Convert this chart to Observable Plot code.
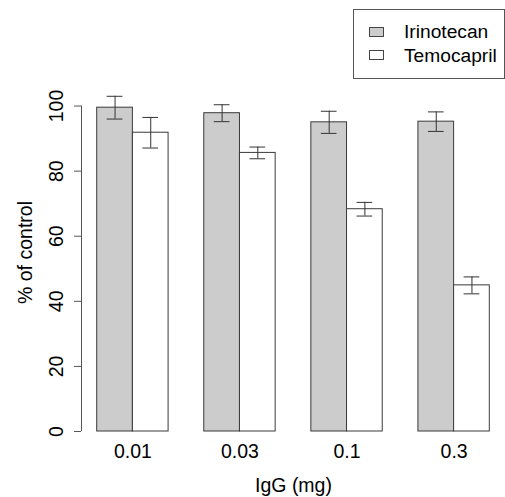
<!DOCTYPE html>
<html>
<head>
<meta charset="utf-8">
<script src="https://cdn.jsdelivr.net/npm/d3@7"></script>
<script src="https://cdn.jsdelivr.net/npm/@observablehq/plot@0.6"></script>
<style>
  body { margin: 0; background: #fff; }
  #wrap { position: relative; width: 505px; height: 497px; font-family: "Liberation Sans", Arial, Helvetica, sans-serif; }
  #legend { position: absolute; left: 353px; top: 9px; width: 150px; height: 68px; border: 1px solid #555; background: #fff; }
  .sw { position: absolute; left: 15px; width: 13px; height: 8px; border: 1px solid #444; }
  .lt { position: absolute; left: 50px; font-size: 19.2px; line-height: 20px; color: #000; }
</style>
</head>
<body>
<div id="wrap"></div>
<script>
const doses = ["0.01", "0.03", "0.1", "0.3"];
const series = ["Irinotecan", "Temocapril"];
const irinotecan = [99.5, 97.8, 95.0, 95.2];
const irinotecanErr = [3.5, 2.6, 3.4, 3.0];
const temocapril = [91.8, 85.6, 68.3, 44.9];
const temocaprilErr = [4.7, 1.8, 2.1, 2.6];
const yTicks = [0, 20, 40, 60, 80, 100];
const fills = ["#cccccc", "#ffffff"];

// R barplot(beside=TRUE) layout: bar width 1, space 1 between groups
const rows = [];
doses.forEach((dose, i) => {
  [[irinotecan, irinotecanErr], [temocapril, temocaprilErr]].forEach(([vals, errs], s) => {
    const x1 = 1 + 3 * i + s;
    rows.push({dose, series: series[s], x1, x2: x1 + 1, xc: x1 + 0.5,
               value: vals[i], lo: vals[i] - errs[i], hi: vals[i] + errs[i]});
  });
});
const groupCenters = doses.map((d, i) => 2 + 3 * i);
const xMin = 1 - 0.04 * 11, xMax = 12 + 0.04 * 11;
const cap = 0.22;
const fs = 19.5;

const chart = Plot.plot({
  width: 505,
  height: 497,
  marginLeft: 81,
  marginRight: 0,
  marginTop: 73,
  marginBottom: 66,
  style: {fontFamily: "Liberation Sans, Arial, Helvetica, sans-serif", fontSize: fs + "px", color: "#000", background: "transparent"},
  x: {domain: [xMin, xMax]},
  y: {domain: [0, 110]},
  color: {domain: series, range: fills},
  marks: [
    Plot.rectY(rows, {x1: "x1", x2: "x2", y1: 0, y2: "value", fill: "series", stroke: "#3a3a3a", strokeWidth: 1}),
    Plot.ruleX(rows, {x: "xc", y1: "lo", y2: "hi", stroke: "#333", strokeWidth: 1}),
    Plot.ruleY(rows, {y: "lo", x1: d => d.xc - cap, x2: d => d.xc + cap, stroke: "#333", strokeWidth: 1}),
    Plot.ruleY(rows, {y: "hi", x1: d => d.xc - cap, x2: d => d.xc + cap, stroke: "#333", strokeWidth: 1}),
    Plot.ruleX([xMin], {y1: yTicks[0], y2: yTicks[yTicks.length - 1], stroke: "#555"}),
    Plot.axisY({ticks: yTicks, tickSize: 7, tickPadding: 12, tickRotate: -90, stroke: "#555", fontSize: fs,
                label: "% of control", labelAnchor: "center", labelOffset: 63, labelArrow: "none"}),
    Plot.axisX({ticks: groupCenters, tickFormat: (d) => doses[groupCenters.indexOf(d)], tickSize: 0, tickPadding: 13, fontSize: fs,
                label: "IgG (mg)", labelAnchor: "center", labelOffset: 60, labelArrow: "none"})
  ]
});

const wrap = document.getElementById("wrap");
wrap.appendChild(chart);
const legend = document.createElement("div");
legend.id = "legend";
series.forEach((s, k) => {
  const sw = document.createElement("div");
  sw.className = "sw";
  sw.style.top = (17 + 23 * k) + "px";
  sw.style.background = fills[k];
  legend.appendChild(sw);
  const t = document.createElement("div");
  t.className = "lt";
  t.style.top = (12 + 24 * k) + "px";
  t.textContent = s;
  legend.appendChild(t);
});
wrap.appendChild(legend);
</script>
</body>
</html>
